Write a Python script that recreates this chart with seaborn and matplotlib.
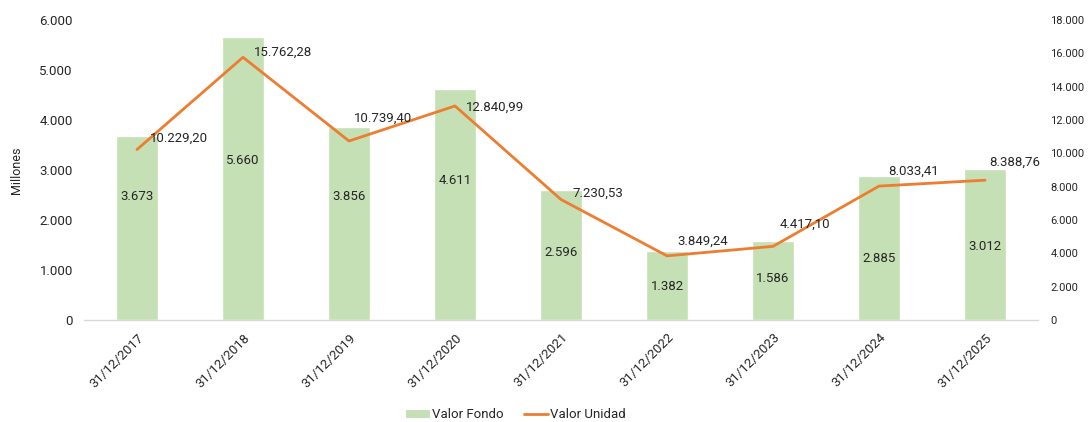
import numpy as np
import pandas as pd
import matplotlib
matplotlib.use("Agg")
import matplotlib.pyplot as plt
import seaborn as sns
from matplotlib.patches import Patch
from matplotlib.lines import Line2D

# ---- data ----
fechas = ["31/12/2017", "31/12/2018", "31/12/2019", "31/12/2020", "31/12/2021",
          "31/12/2022", "31/12/2023", "31/12/2024", "31/12/2025"]
valor_fondo = [3673, 5660, 3856, 4611, 2596, 1382, 1586, 2885, 3012]
valor_fondo_txt = ["3.673", "5.660", "3.856", "4.611", "2.596", "1.382", "1.586", "2.885", "3.012"]
valor_unidad = [10229.20, 15762.28, 10739.40, 12840.99, 7230.53, 3849.24, 4417.10, 8033.41, 8388.76]
valor_unidad_txt = ["10.229,20", "15.762,28", "10.739,40", "12.840,99", "7.230,53",
                    "3.849,24", "4.417,10", "8.033,41", "8.388,76"]
left_ticks = [0, 1000, 2000, 3000, 4000, 5000, 6000]
left_tick_txt = ["0", "1.000", "2.000", "3.000", "4.000", "5.000", "6.000"]
right_ticks = [0, 2000, 4000, 6000, 8000, 10000, 12000, 14000, 16000, 18000]
right_tick_txt = ["0", "2.000", "4.000", "6.000", "8.000", "10.000", "12.000",
                  "14.000", "16.000", "18.000"]

# label placement (layout only)
bar_label_y = [2460, 3200, 2480, 2780, 1360, 660, 840, 1240, 1460]
line_label_off = [(13, 11), (11, 5), (5, 23), (11, -1), (11, 6), (10, 15), (7, 22), (9, 15), (4, 18)]

GREEN = "#C5E0B4"
ORANGE = "#ED7D31"
TXT = "#262626"

sns.set_theme(style="white")
plt.rcParams["font.family"] = ["Roboto", "DejaVu Sans"]
FS = 9.5
plt.rcParams["font.size"] = FS

fig = plt.figure(figsize=(10.89, 4.22), dpi=100)
ax = fig.add_axes([84 / 1089, 102 / 422, 954 / 1089, 300 / 422])

df = pd.DataFrame({"Fecha": fechas, "Valor Fondo": valor_fondo})
sns.barplot(data=df, x="Fecha", y="Valor Fondo", color=GREEN, width=0.4,
            saturation=1, ax=ax, zorder=1)
ax.set_ylim(0, 6000)
ax.set_xlim(-0.5, len(fechas) - 0.5)
ax.set_yticks(left_ticks)
ax.set_yticklabels(left_tick_txt, color=TXT, fontsize=FS)
ax.set_xlabel("")
ax.set_ylabel("Millones", color=TXT, fontsize=FS - 0.5, labelpad=12)
ax.set_xticks(range(len(fechas)))
ax.set_xticklabels(fechas, rotation=45, ha="right", rotation_mode="anchor",
                   color=TXT, fontsize=FS)
ax.tick_params(axis="x", length=0, pad=8)
ax.tick_params(axis="y", length=0, pad=8)
ax.set_xticks(np.arange(-0.5, len(fechas), 1), minor=True)
ax.tick_params(axis="x", which="minor", length=4, color="#D9D9D9", width=1)
for s in ["top", "left", "right"]:
    ax.spines[s].set_visible(False)
ax.spines["bottom"].set_color("#D9D9D9")
ax.spines["bottom"].set_linewidth(1)

for i, (t, y) in enumerate(zip(valor_fondo_txt, bar_label_y)):
    ax.text(i, y, t, ha="center", va="center", color=TXT, fontsize=FS, zorder=5)

ax2 = ax.twinx()
dfl = pd.DataFrame({"x": np.arange(len(fechas)), "Valor Unidad": valor_unidad})
sns.lineplot(data=dfl, x="x", y="Valor Unidad", color=ORANGE, linewidth=2, ax=ax2)
ax2.set_ylim(0, 18000)
ax2.set_xlim(-0.5, len(fechas) - 0.5)
ax2.set_yticks(right_ticks)
ax2.set_yticklabels(right_tick_txt, color=TXT, fontsize=8)
ax2.set_ylabel("")
ax2.tick_params(axis="y", length=0, pad=9)
for s in ["top", "left", "right", "bottom"]:
    ax2.spines[s].set_visible(False)

for i, (v, t, off) in enumerate(zip(valor_unidad, valor_unidad_txt, line_label_off)):
    ax2.annotate(t, (i, v), xytext=(off[0], off[1]), textcoords="offset pixels",
                 ha="left", va="center", color=TXT, fontsize=FS)

handles = [Patch(facecolor=GREEN, edgecolor="none"),
           Line2D([0], [0], color=ORANGE, linewidth=2)]
fig.legend(handles, ["Valor Fondo", "Valor Unidad"], loc="center",
           bbox_to_anchor=(516 / 1089, 1 - 415 / 422), ncol=2, frameon=False,
           fontsize=FS, handlelength=1.8, handleheight=0.6, columnspacing=1.6,
           handletextpad=0.15, labelcolor=TXT)

fig.savefig("out.png", dpi=100)
